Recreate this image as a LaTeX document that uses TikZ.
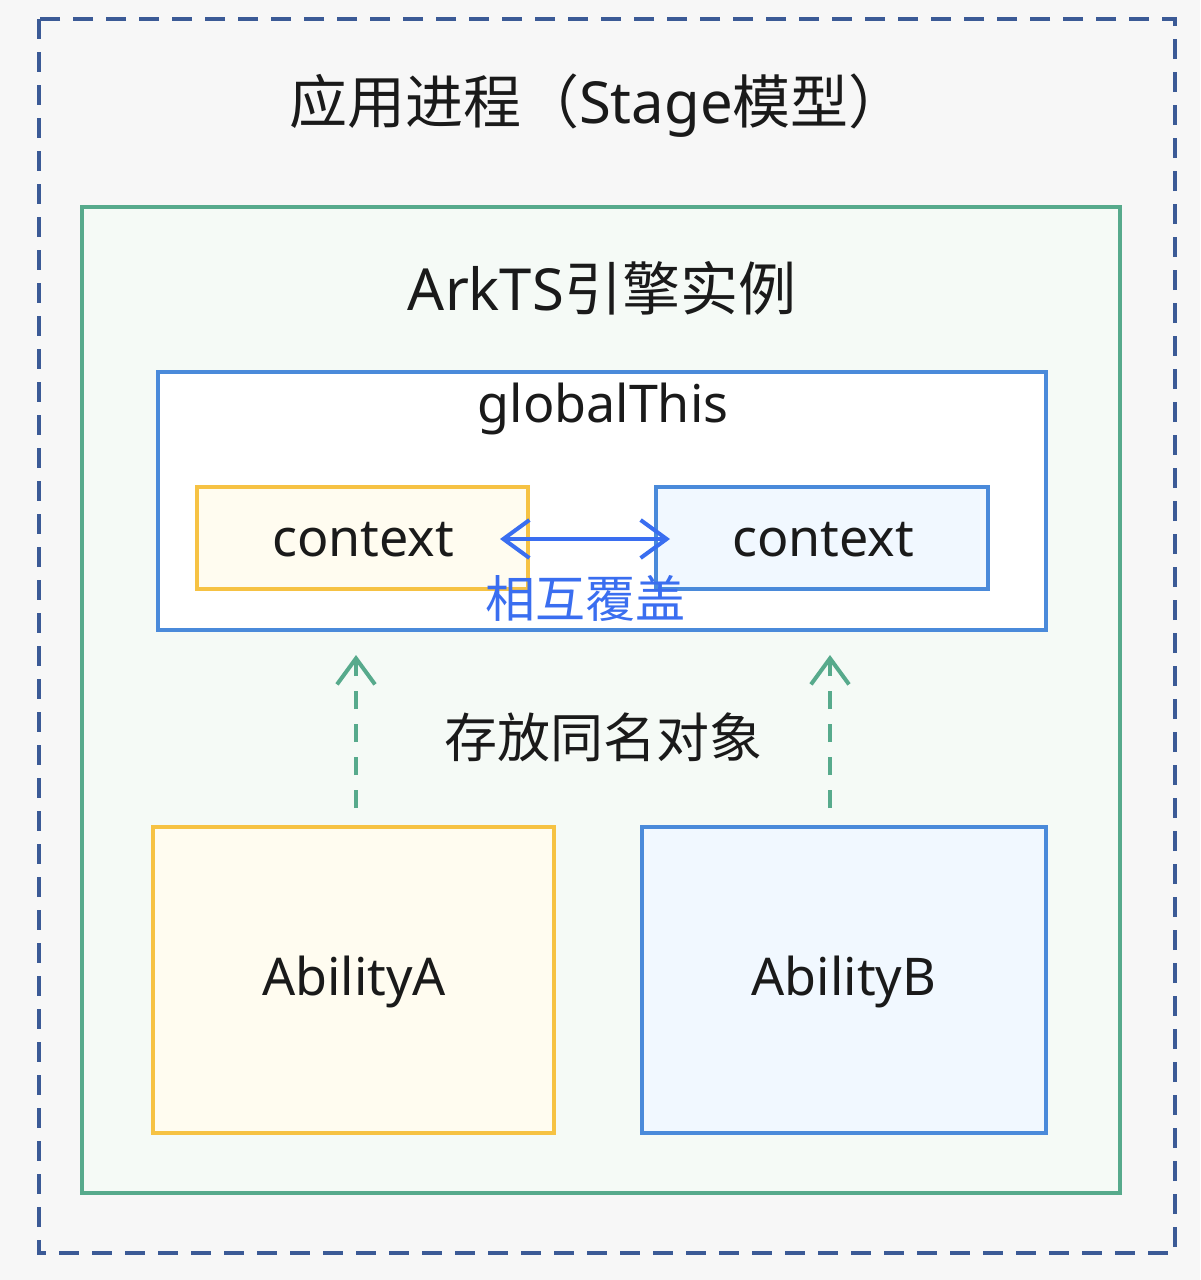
\documentclass[tikz,border=0pt]{standalone}
\usepackage{fontspec}
\setmainfont{Noto Sans}
\newfontfamily\cjk{Noto Sans CJK SC}
\usetikzlibrary{arrows.meta}
\definecolor{bgc}{HTML}{F7F7F7}
\definecolor{outerc}{HTML}{3B5A96}
\definecolor{greenc}{HTML}{57AA8C}
\definecolor{greenfill}{HTML}{F5FAF6}
\definecolor{bluec}{HTML}{4A8ADA}
\definecolor{yellowc}{HTML}{F6C243}
\definecolor{yellowfill}{HTML}{FFFCF0}
\definecolor{bluefill}{HTML}{F1F8FF}
\definecolor{arrowblue}{HTML}{3A6EF0}
\definecolor{txt}{HTML}{1A1A1A}
\tikzset{
  box/.style={draw, line width=3.5pt, inner sep=0pt, outer sep=0pt},
  lbl/.style={font=\fontsize{52}{62}\selectfont, text=txt, inner sep=0pt},
  biglbl/.style={font=\fontsize{58}{68}\selectfont, text=txt, inner sep=0pt},
  swap/.style={{Straight Barb[length=26pt,width=38pt,line width=4pt]}-{Straight Barb[length=26pt,width=38pt,line width=4pt]}, draw=arrowblue, line width=4pt},
  feed/.style={-{Straight Barb[length=26pt,width=38pt,line width=4pt]}, draw=greenc, line width=4pt, dash pattern=on 18pt off 15pt},
}
\begin{document}
\begin{tikzpicture}[x=1pt,y=-1pt]
\useasboundingbox (0,0) rectangle (1200,1280);
\fill[bgc] (0,0) rectangle (1200,1280);
\draw[outerc, line width=3.5pt, dash pattern=on 20pt off 13pt] (39,19) rectangle (1175,1253);
\node[biglbl] (title) at (598,106) {{\cjk 应用进程（}Stage{\cjk 模型）}};
\node[box, draw=greenc, fill=greenfill, minimum width=1038pt, minimum height=986pt] (engine) at (601,700) {};
\node[biglbl] (enginelbl) at (602,288) {ArkTS{\cjk 引擎实例}};
\node[box, draw=bluec, fill=white, minimum width=888pt, minimum height=258pt] (global) at (602,501) {};
\node[lbl] (globallbl) at (603,409) {globalThis};
\node[box, draw=yellowc, fill=yellowfill, minimum width=331pt, minimum height=102pt] (ctxA) at (362.5,538) {};
\node[lbl] at (363,540) {context};
\node[box, draw=bluec, fill=bluefill, minimum width=332pt, minimum height=102pt] (ctxB) at (822,538) {};
\node[lbl] at (823,540) {context};
\coordinate (swapL) at (500,539);
\coordinate (swapR) at (670,539);
\draw[swap] (swapL) -- (swapR);
\node[lbl, text=arrowblue, font=\cjk\fontsize{50}{60}\selectfont] (swaplbl) at (585,598) {相互覆盖};
\node[box, draw=yellowc, fill=yellowfill, minimum width=401pt, minimum height=306pt] (abA) at (353.5,980) {};
\node[lbl] at (354,982) {AbilityA};
\node[box, draw=bluec, fill=bluefill, minimum width=404pt, minimum height=306pt] (abB) at (844,980) {};
\node[lbl] at (844,982) {AbilityB};
\coordinate (fA0) at (356,808);
\coordinate (fA1) at (356,655);
\coordinate (fB0) at (830,808);
\coordinate (fB1) at (830,655);
\draw[feed] (fA0) -- (fA1);
\draw[feed] (fB0) -- (fB1);
\node[lbl, font=\cjk\fontsize{53}{63}\selectfont] (storelbl) at (603,737) {存放同名对象};
\end{tikzpicture}
\end{document}
